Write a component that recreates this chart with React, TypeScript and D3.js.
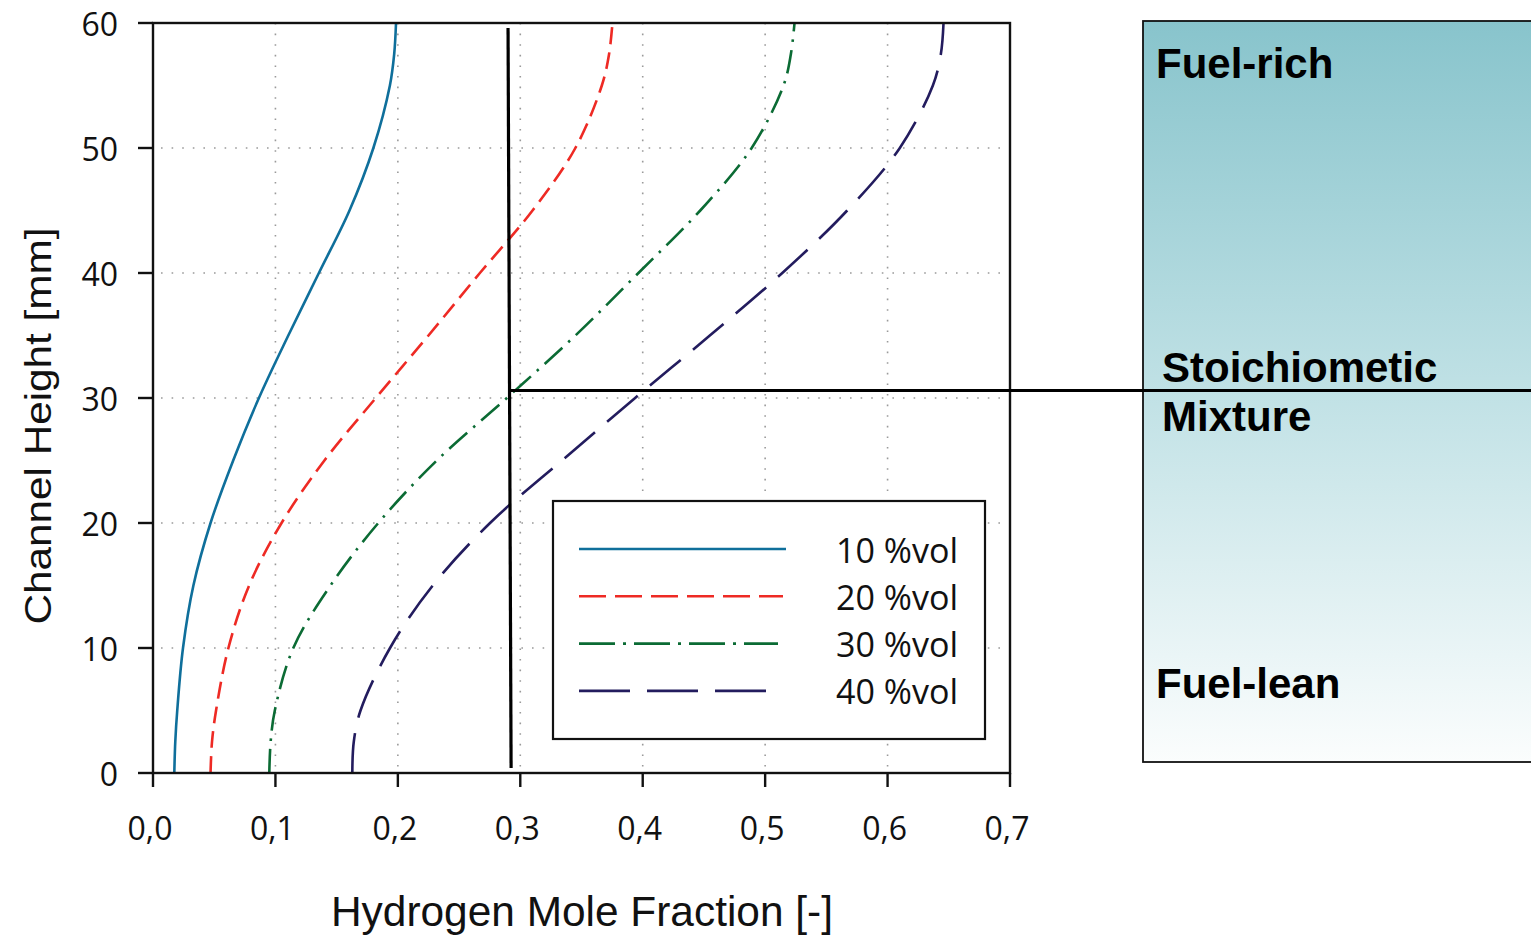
import React from "react";
import * as d3 from "d3";

const heights = [0, 2.5, 5, 10, 15, 20, 25, 30, 35, 40, 45, 50, 55, 57.5, 60];
const h2_10 = [0.0174, 0.0182, 0.0198, 0.0245, 0.033, 0.047, 0.0655, 0.0865, 0.1105, 0.1355, 0.1605, 0.18, 0.1935, 0.197, 0.1985];
const h2_20 = [0.047, 0.0482, 0.0515, 0.0616, 0.0785, 0.105, 0.14, 0.182, 0.225, 0.267, 0.31, 0.345, 0.3666, 0.3725, 0.3753];
const h2_30 = [0.095, 0.0961, 0.0995, 0.1146, 0.145, 0.184, 0.2318, 0.289, 0.345, 0.3965, 0.447, 0.489, 0.515, 0.521, 0.524];
const h2_40 = [0.1628, 0.164, 0.1695, 0.1936, 0.2285, 0.2753, 0.334, 0.3938, 0.4548, 0.514, 0.567, 0.61, 0.637, 0.6435, 0.6457];

const seriesLabels = ["10 %vol", "20 %vol", "30 %vol", "40 %vol"];
const xTicks = [0, 0.1, 0.2, 0.3, 0.4, 0.5, 0.6, 0.7];
const yTicks = [0, 10, 20, 30, 40, 50, 60];
const stoichX = [0.29, 0.2925];
const stoichY = 30.6;
const zoneLabels = ["Fuel-rich", "Stoichiometic", "Mixture", "Fuel-lean"];

const series = [
  { label: seriesLabels[0], values: h2_10, color: "#0f6f9b", dash: "none", legendDash: "none", legendEnd: 786 },
  { label: seriesLabels[1], values: h2_20, color: "#ee2a24", dash: "17,8", legendDash: "27,9", legendEnd: 783 },
  { label: seriesLabels[2], values: h2_30, color: "#0b6b34", dash: "24,8,2.5,8", legendDash: "36,8,3,8", legendEnd: 778 },
  { label: seriesLabels[3], values: h2_40, color: "#231c5e", dash: "40,16", legendDash: "51,17", legendEnd: 766 },
];

export default function App() {
  const x = d3.scaleLinear().domain([0, 0.7]).range([153, 1010]);
  const y = d3.scaleLinear().domain([0, 60]).range([773, 23]);
  const line = d3
    .line<[number, number]>()
    .x((d) => x(d[0]))
    .y((d) => y(d[1]))
    .curve(d3.curveCatmullRom.alpha(0.5));

  const fmt = (v: number) => v.toFixed(1).replace(".", ",");
  const tickFont = "'Open Sans', 'DejaVu Sans', sans-serif";
  const arial = "'Liberation Sans', Arial, sans-serif";

  return (
    <svg
      width={1531}
      height={937}
      style={{ position: "absolute", left: 0, top: 0, background: "#fff" }}
    >
      <defs>
        <linearGradient id="zoneGrad" x1="0" y1="0" x2="0" y2="1">
          <stop offset="0%" stopColor="#88c4cc" />
          <stop offset="50%" stopColor="#c0e1e5" />
          <stop offset="100%" stopColor="#fbfdfd" />
        </linearGradient>
      </defs>

      {/* grid */}
      {xTicks.slice(1, -1).map((t) => (
        <line key={"gx" + t} x1={x(t)} x2={x(t)} y1={y(60)} y2={y(0)} stroke="#9a9a9a" strokeWidth={1.6} strokeDasharray="1.6,9" />
      ))}
      {yTicks.slice(1, -1).map((t) => (
        <line key={"gy" + t} x1={x(0) + 8} x2={x(0.7) - 6} y1={y(t)} y2={y(t)} stroke="#9a9a9a" strokeWidth={1.6} strokeDasharray="1.6,9" />
      ))}

      {/* curves */}
      {series.map((s) => (
        <path
          key={s.label}
          d={line(s.values.map((v, i) => [v, heights[i]] as [number, number])) || ""}
          fill="none"
          stroke={s.color}
          strokeWidth={2.6}
          strokeDasharray={s.dash}
        />
      ))}

      {/* frame */}
      <rect x={x(0)} y={y(60)} width={x(0.7) - x(0)} height={y(0) - y(60)} fill="none" stroke="#111" strokeWidth={2.4} />

      {/* y axis ticks */}
      {yTicks.map((t) => (
        <g key={"yt" + t}>
          <line x1={x(0) - 15} x2={x(0)} y1={y(t)} y2={y(t)} stroke="#111" strokeWidth={2.4} />
          <text x={118} y={y(t)} dominantBaseline="central" textAnchor="end" fontFamily={tickFont} fontSize={32} fill="#111">
            {t}
          </text>
        </g>
      ))}
      {/* x axis ticks */}
      {xTicks.map((t) => (
        <g key={"xt" + t}>
          <line x1={x(t)} x2={x(t)} y1={y(0)} y2={y(0) + 14} stroke="#111" strokeWidth={2.4} />
          <text x={x(t) - 3} y={840} textAnchor="middle" fontFamily={tickFont} fontSize={32} fill="#111">
            {fmt(t)}
          </text>
        </g>
      ))}

      {/* axis titles */}
      <text x={582} y={926} textAnchor="middle" fontFamily={arial} fontSize={42} fill="#111" textLength={502} lengthAdjust="spacingAndGlyphs">
        Hydrogen Mole Fraction [-]
      </text>
      <text
        transform={`translate(51, 426) scale(0.87, 1) rotate(-90)`}
        textAnchor="middle"
        fontFamily={arial}
        fontSize={42}
        fill="#111"
        textLength={397}
        lengthAdjust="spacingAndGlyphs"
      >
        Channel Height [mm]
      </text>

      {/* legend */}
      <rect x={553} y={501} width={432} height={238} fill="#fff" stroke="#111" strokeWidth={2.2} />
      {series.map((s, i) => {
        const ly = 549 + i * 47.3;
        return (
          <g key={"lg" + i}>
            <line x1={579} x2={s.legendEnd} y1={ly} y2={ly} stroke={s.color} strokeWidth={2.6} strokeDasharray={s.legendDash} />
            <text x={836} y={ly + 13.5} fontFamily={tickFont} fontSize={35} fill="#111" textLength={122} lengthAdjust="spacingAndGlyphs">
              {s.label}
            </text>
          </g>
        );
      })}

      {/* zone box */}
      <rect x={1143} y={21} width={400} height={741} fill="url(#zoneGrad)" stroke="#111" strokeWidth={1.8} />
      <text x={1156} y={78} fontFamily={arial} fontWeight="bold" fontSize={42} fill="#000">{zoneLabels[0]}</text>
      <text x={1162} y={382} fontFamily={arial} fontWeight="bold" fontSize={42} fill="#000">{zoneLabels[1]}</text>
      <text x={1162} y={431} fontFamily={arial} fontWeight="bold" fontSize={42} fill="#000">{zoneLabels[2]}</text>
      <text x={1156} y={698} fontFamily={arial} fontWeight="bold" fontSize={42} fill="#000">{zoneLabels[3]}</text>

      {/* stoichiometric lines */}
      <line x1={x(stoichX[0])} y1={28} x2={x(stoichX[1])} y2={768} stroke="#000" strokeWidth={3.2} />
      <line x1={x(stoichX[0]) + 1} y1={y(stoichY)} x2={1531} y2={y(stoichY)} stroke="#000" strokeWidth={3} />
    </svg>
  );
}
